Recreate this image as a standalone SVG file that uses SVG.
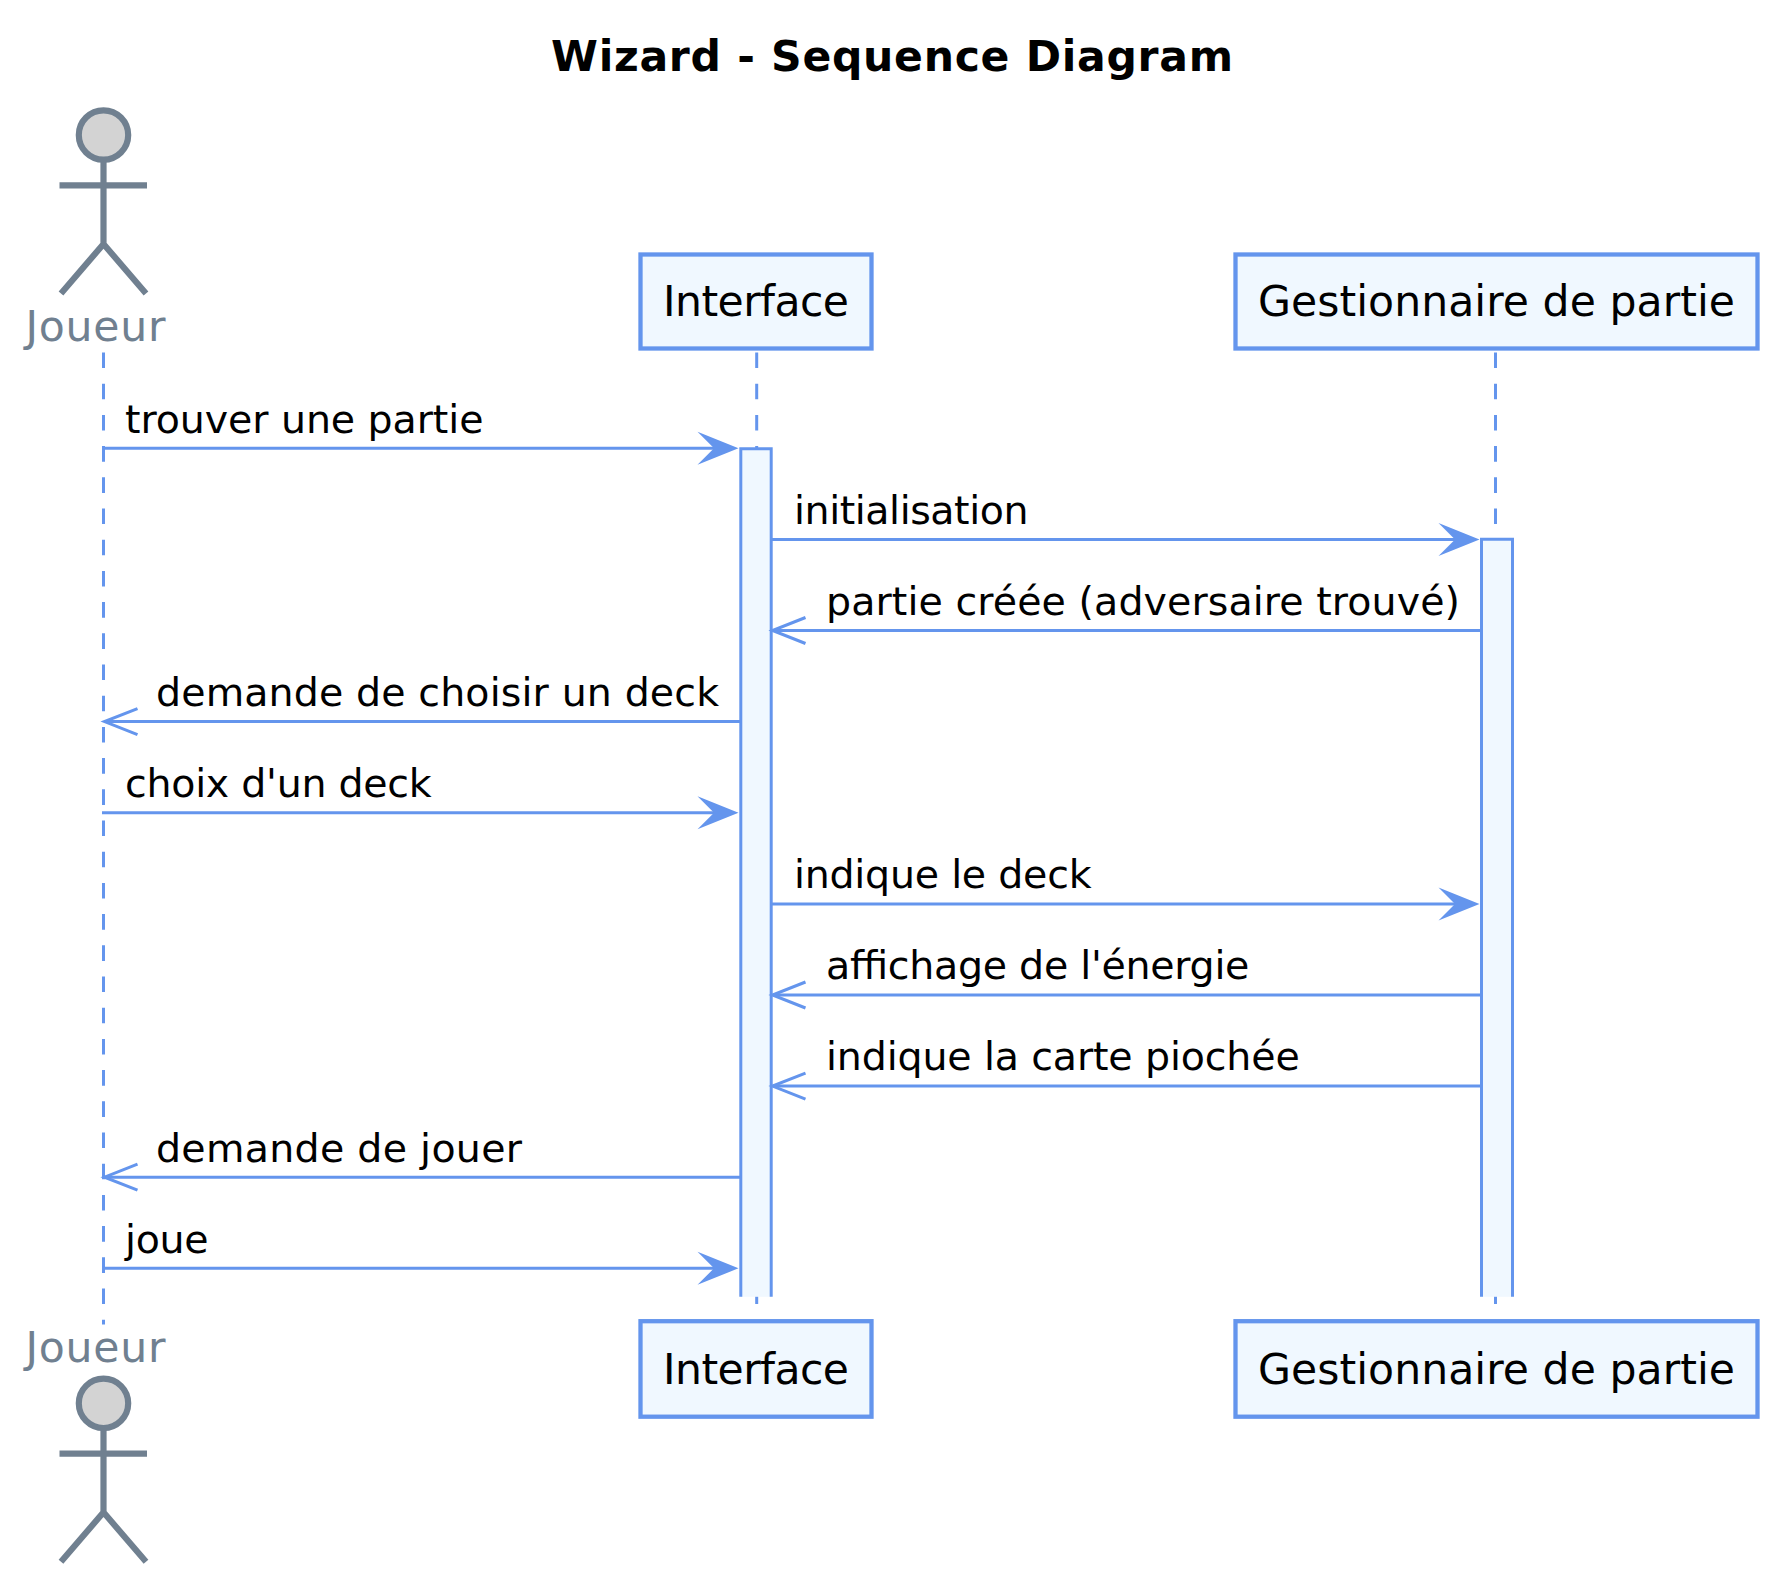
<svg xmlns="http://www.w3.org/2000/svg" width="1792" height="1594" viewBox="0 0 1792 1594">
<style>
text{font-family:"DejaVu Sans",sans-serif;font-size:39.5px;fill:#000}
.t{font-weight:bold;font-size:42.56px}
.p{font-size:42.56px}
.a{font-size:42.56px;fill:#708090}
.box{fill:#F0F8FF;stroke:#6495ED;stroke-width:4.3}
.actfill{fill:#F0F8FF}
.act{stroke:#6495ED;stroke-width:3;fill:none}
.life{stroke:#6495ED;stroke-width:3;stroke-dasharray:15.6 15.6;fill:none}
.msg{stroke:#6495ED;stroke-width:3;fill:none}
.open{stroke:#6495ED;stroke-width:3;fill:none}
.fig{stroke:#708090;stroke-width:6.2;fill:none}
.head{fill:#D3D3D3;stroke:#708090;stroke-width:6.2}
</style>
<defs>
<g id="figure">
<circle class="head" cx="103.5" cy="135" r="24.7"/>
<path class="fig" d="M103.5 160V244M59.500 185.300H147M103.500 244L61 293.500M103.500 244L146 293.500"/>
</g>
<path id="solid" d="M0 0L-41 -16.500L-24.500 0L-41 16.500Z" fill="#6495ED"/>
<path id="open" class="open" d="M33 -13L0 0L33 13"/>
</defs>
<rect width="1792" height="1594" fill="#fff"/>
<text class="t" x="551" y="71" textLength="682" lengthAdjust="spacing">Wizard - Sequence Diagram</text>
<g id="connectors">
<path class="life" d="M103.500 352.500V1324.500"/>
<path class="life" d="M756.700 352.500V1304"/>
<path class="life" d="M1495.500 352.500V1304"/>
</g>
<g id="act-interface"><rect class="actfill" x="740.800" y="448.800" width="30.400" height="848"/><path class="act" d="M740.800 1296.800V448.800H771.200V1296.800"/></g>
<g id="act-gestion"><rect class="actfill" x="1481.500" y="539.200" width="31" height="757.600"/><path class="act" d="M1481.500 1296.800V539.200H1512.500V1296.800"/></g>
<g id="messages">
<path class="msg" d="M102 448.300H730"/><use href="#solid" x="738.500" y="448.300"/>
<path class="msg" d="M771 539.400H1471"/><use href="#solid" x="1479.500" y="539.400"/>
<path class="msg" d="M1481 630.500H773"/><use href="#open" x="772.500" y="630.500"/>
<path class="msg" d="M740 721.600H105"/><use href="#open" x="104.500" y="721.600"/>
<path class="msg" d="M102 812.700H730"/><use href="#solid" x="738.500" y="812.700"/>
<path class="msg" d="M771 903.900H1471"/><use href="#solid" x="1479.500" y="903.900"/>
<path class="msg" d="M1481 995H773"/><use href="#open" x="772.500" y="995"/>
<path class="msg" d="M1481 1086.100H773"/><use href="#open" x="772.500" y="1086.100"/>
<path class="msg" d="M740 1177.200H105"/><use href="#open" x="104.500" y="1177.200"/>
<path class="msg" d="M102 1268.300H730"/><use href="#solid" x="738.500" y="1268.300"/>
</g>
<g id="message-labels">
<text x="125" y="433" textLength="358.500" lengthAdjust="spacing">trouver une partie</text>
<text x="794" y="524.100" textLength="234.500" lengthAdjust="spacing">initialisation</text>
<text x="826" y="615.200" textLength="634" lengthAdjust="spacing">partie créée (adversaire trouvé)</text>
<text x="156" y="706.300" textLength="563" lengthAdjust="spacing">demande de choisir un deck</text>
<text x="125" y="797.400" textLength="306.700" lengthAdjust="spacing">choix d'un deck</text>
<text x="794" y="888.200" textLength="297.500" lengthAdjust="spacing">indique le deck</text>
<text x="826" y="979.300" textLength="423.400" lengthAdjust="spacing">affichage de l'énergie</text>
<text x="826" y="1070.400" textLength="473.700" lengthAdjust="spacing">indique la carte piochée</text>
<text x="156" y="1161.900" textLength="366" lengthAdjust="spacing">demande de jouer</text>
<text x="125" y="1253" textLength="83.500" lengthAdjust="spacing">joue</text>
</g>
<g id="joueur-top"><use href="#figure"/><text class="a" x="25.500" y="340.700" textLength="140" lengthAdjust="spacing">Joueur</text></g>
<g id="interface-top"><rect class="box" x="640.500" y="254.500" width="231" height="94"/><text class="p" x="663" y="316" textLength="186" lengthAdjust="spacing">Interface</text></g>
<g id="gestion-top"><rect class="box" x="1235.500" y="254.500" width="522" height="94"/><text class="p" x="1258" y="316" textLength="477" lengthAdjust="spacing">Gestionnaire de partie</text></g>
<g id="joueur-bottom"><use href="#figure" y="1268.300"/><text class="a" x="25.500" y="1362.300" textLength="140" lengthAdjust="spacing">Joueur</text></g>
<g id="interface-bottom"><rect class="box" x="640.500" y="1321.200" width="231" height="95.500"/><text class="p" x="663" y="1383.500" textLength="186" lengthAdjust="spacing">Interface</text></g>
<g id="gestion-bottom"><rect class="box" x="1235.500" y="1321.200" width="522" height="95.500"/><text class="p" x="1258" y="1383.500" textLength="477" lengthAdjust="spacing">Gestionnaire de partie</text></g>
</svg>
